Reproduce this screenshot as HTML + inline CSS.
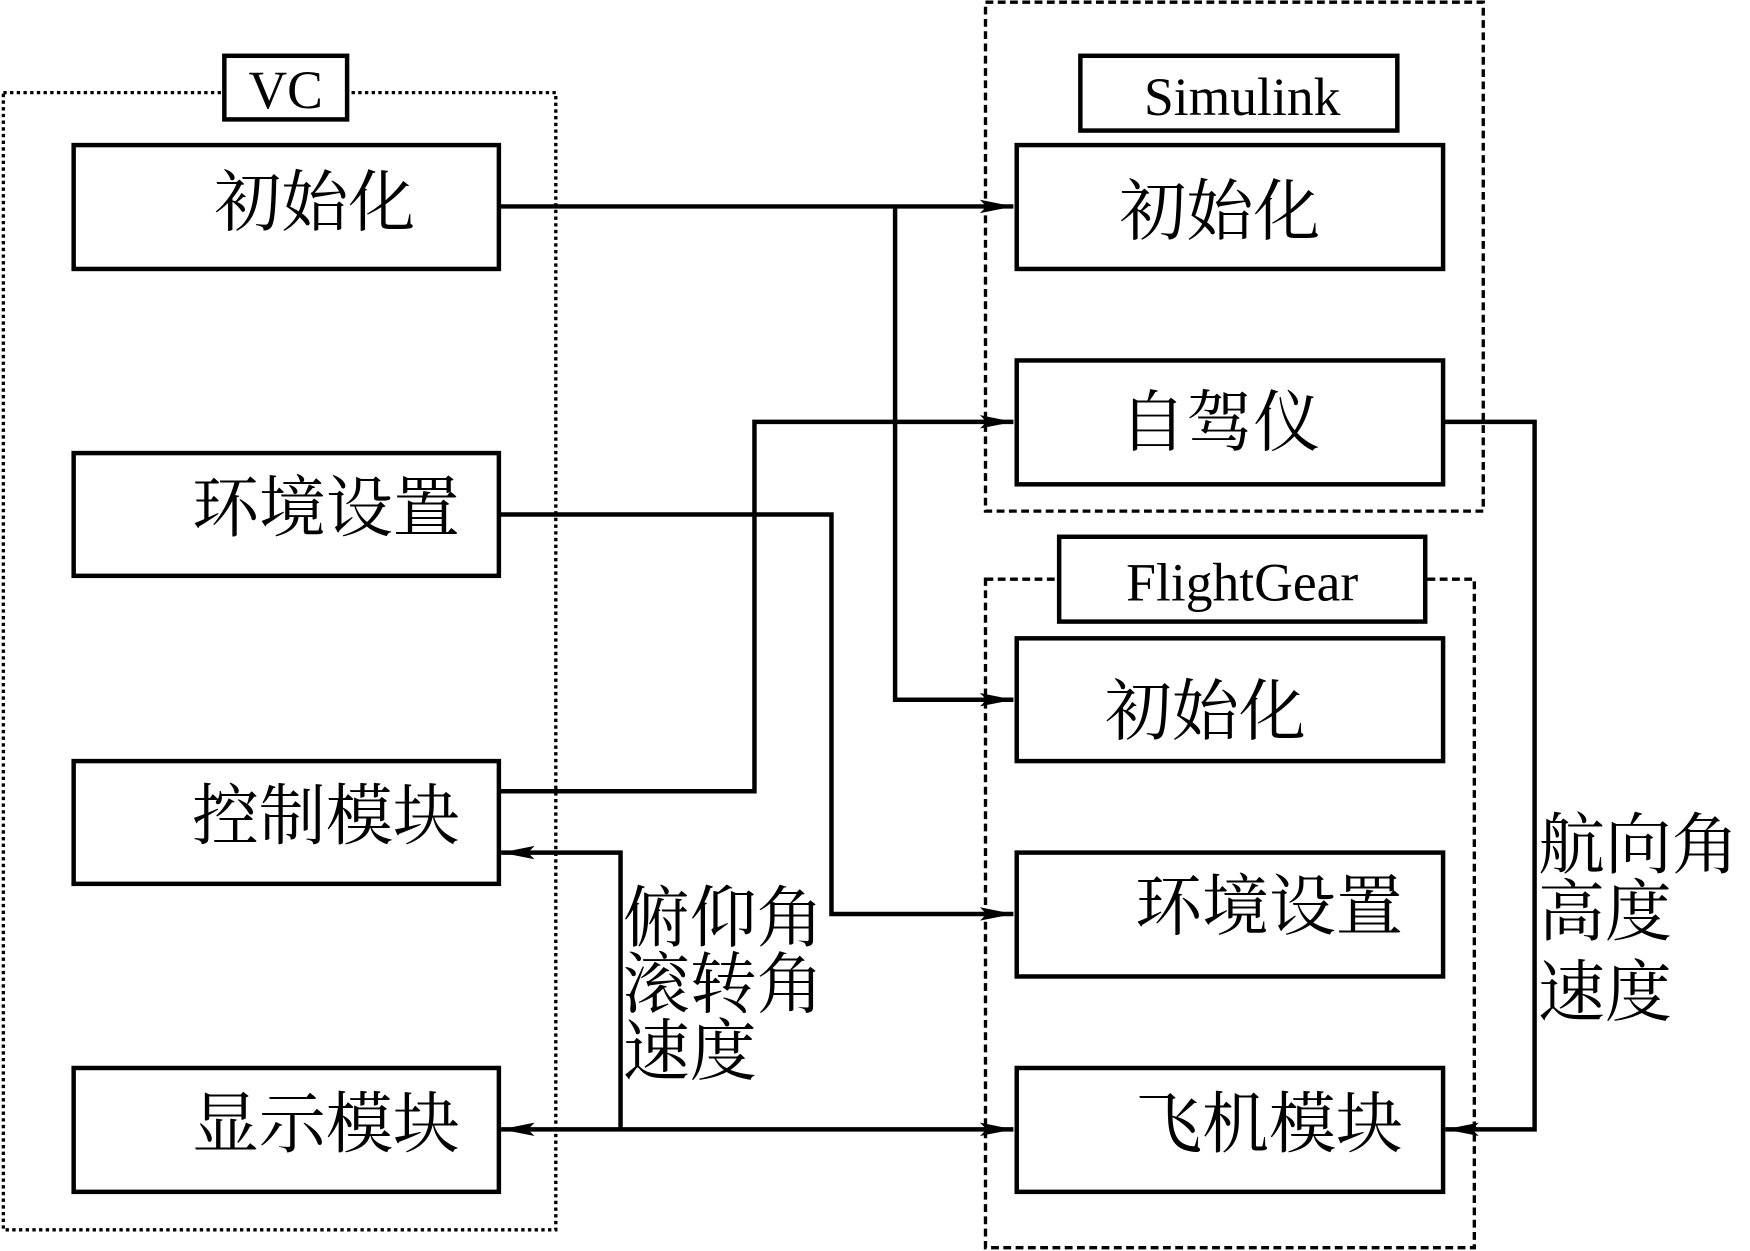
<!DOCTYPE html>
<html><head><meta charset="utf-8"><style>
html,body{margin:0;padding:0;background:#fff;}
svg{display:block;}
text{font-family:"Liberation Serif","Noto Serif CJK SC","Noto Sans CJK SC",serif;fill:#000;}
</style></head><body>
<svg width="1750" height="1251" viewBox="0 0 1568 1121" preserveAspectRatio="none" xmlns="http://www.w3.org/2000/svg">
<defs><marker id="a" markerWidth="10" markerHeight="8" refX="10" refY="4" orient="auto" markerUnits="userSpaceOnUse" viewBox="0 0 10 8"><path d="M0,0 L10,4 L0,8 Z" fill="#000"/></marker>
<marker id="b" viewBox="0 0 30 14" refX="30" refY="7" markerWidth="30" markerHeight="14" orient="auto" markerUnits="userSpaceOnUse"><path d="M0,1 L30,7 L0,13 L6,7 Z" fill="#000"/></marker></defs>
<g fill="none" stroke="#000">
<rect x="3" y="83" width="495" height="1019" stroke-width="3" stroke-dasharray="3,3"/>
<rect x="883" y="2" width="446" height="456" stroke-width="3" stroke-dasharray="7,4"/>
<rect x="883" y="519" width="438" height="599" stroke-width="3" stroke-dasharray="7,4"/>
</g>
<g fill="#fff" stroke="#000" stroke-width="4">
<rect x="201" y="50" width="110" height="57"/>
<rect x="968" y="50" width="284" height="67"/>
<rect x="949" y="481" width="328" height="76"/>
<rect x="66" y="130" width="381" height="111"/>
<rect x="66" y="406" width="381" height="110"/>
<rect x="66" y="682" width="381" height="110"/>
<rect x="66" y="957" width="381" height="111"/>
<rect x="911" y="130" width="382" height="111"/>
<rect x="911" y="323" width="382" height="111"/>
<rect x="911" y="572" width="382" height="110"/>
<rect x="911" y="764" width="382" height="111"/>
<rect x="911" y="957" width="382" height="111"/>
</g>
<g fill="none" stroke="#000" stroke-width="4">
<path d="M447,185 H908" marker-end="url(#b)"/>
<path d="M802,185 V627 H908" marker-end="url(#b)"/>
<path d="M447,709 H676 V378 H908" marker-end="url(#b)"/>
<path d="M447,461 H745 V819 H908" marker-end="url(#b)"/>
<path d="M1293,378 H1375 V1012 H1295" marker-end="url(#b)"/>
<path d="M556,1012 H908" marker-end="url(#b)"/>
<path d="M556,1012 H449" marker-end="url(#b)"/>
<path d="M556,1012 V764 H449" marker-end="url(#b)"/>
</g>
<g font-size="48" text-anchor="middle">
<text x="256" y="97">VC</text>
<text x="1113" y="103">Simulink</text>
<text x="1113" y="538">FlightGear</text>
</g>
<g font-size="60">
<text x="192" y="202">初始化</text>
<text x="172" y="476">环境设置</text>
<text x="172" y="752">控制模块</text>
<text x="172" y="1028">显示模块</text>
<text x="1003" y="210">初始化</text>
<text x="1003" y="399">自驾仪</text>
<text x="990" y="658">初始化</text>
<text x="1017" y="833">环境设置</text>
<text x="1017" y="1028">飞机模块</text>
<text x="558" y="843">俯仰角</text>
<text x="558" y="903">滚转角</text>
<text x="558" y="963">速度</text>
<text x="1378" y="778">航向角</text>
<text x="1378" y="838">高度</text>
<text x="1378" y="910">速度</text>
</g>
</svg>
</body></html>
